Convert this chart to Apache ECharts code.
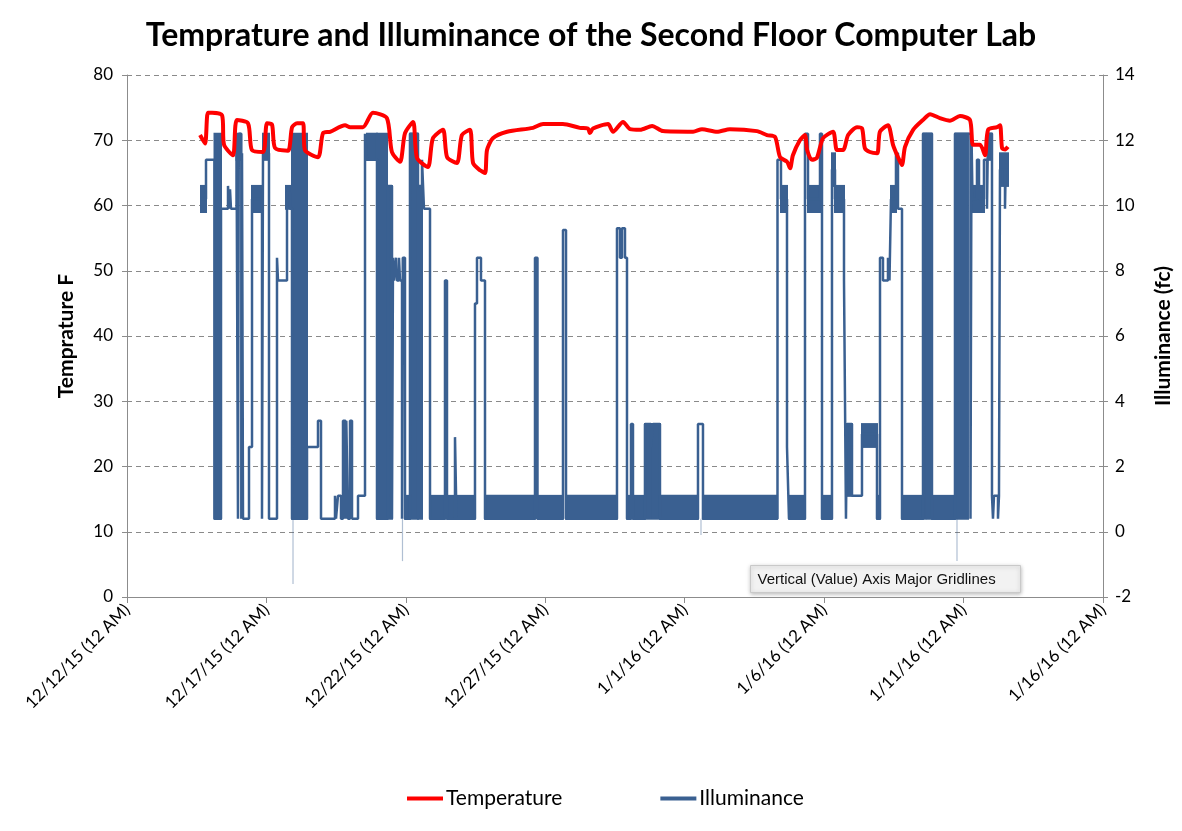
<!DOCTYPE html>
<html>
<head>
<meta charset="utf-8">
<script src="https://cdn.jsdelivr.net/npm/echarts@6/dist/echarts.min.js"></script>
<style>html,body{margin:0;padding:0;background:#fff}#c{width:1182px;height:831px}</style>
</head>
<body>
<div id="c"></div>
<script>
// x values are days after 12/12/15 (12 AM)
const tickLabels = ['12/12/15 (12 AM)','12/17/15 (12 AM)','12/22/15 (12 AM)','12/27/15 (12 AM)','1/1/16 (12 AM)','1/6/16 (12 AM)','1/11/16 (12 AM)','1/16/16 (12 AM)'];

const tempDays = [2.62,2.80,2.90,3.05,3.41,3.48,3.80,3.94,4.34,4.48,4.88,5.02,5.20,5.31,5.77,5.92,6.10,6.31,6.38,6.85,7.03,7.28,7.82,8.00,8.46,8.82,9.32,9.50,9.79,9.97,10.26,10.40,10.79,10.97,11.33,11.48,11.83,12.01,12.30,12.41,12.66,12.84,12.91,13.12,13.63,14.56,14.92,15.63,16.24,16.53,16.60,16.71,17.25,17.43,17.79,18.04,18.40,18.83,19.22,20.30,20.62,21.16,21.62,22.59,22.95,23.24,23.42,23.67,23.78,23.88,24.13,24.31,24.39,24.56,24.74,24.96,25.32,25.46,25.68,25.86,26.18,26.36,26.46,26.64,26.90,27.00,27.29,27.47,27.65,27.79,27.90,28.19,28.54,28.80,29.15,29.51,29.87,30.23,30.34,30.59,30.77,30.88,31.20,31.31,31.38,31.49,31.59];
const tempValues = [70.8,69.5,74.2,74.2,73.8,69.3,67.7,73.1,72.6,68.5,68.2,72.6,72.4,68.8,68.4,72.0,72.6,72.6,68.5,67.4,71.1,71.3,72.3,72.0,72.0,74.2,73.4,68.2,66.7,71.1,72.8,67.3,65.9,70.3,71.6,67.4,66.5,70.8,71.6,66.5,65.4,65.0,68.5,70.3,71.3,71.9,72.5,72.5,71.9,71.8,71.1,71.8,72.5,71.3,72.8,71.7,71.6,72.2,71.4,71.3,71.7,71.3,71.7,71.4,70.8,70.5,67.4,66.7,65.7,67.7,70.0,70.8,68.5,67.0,67.3,70.3,71.3,68.5,68.5,70.8,72.0,71.8,68.8,68.2,68.0,71.3,72.3,69.3,67.4,66.2,69.0,71.6,73.1,74.0,73.4,73.0,73.7,73.1,69.3,69.3,67.7,71.6,72.0,72.3,68.8,68.6,69.0];

// illuminance (fc): level changes, value holds until the next day entry
const illumDays = [2.654,2.833,3.138,3.371,3.622,3.658,3.694,3.729,3.927,3.980,4.009,4.099,4.124,4.160,4.375,4.483,4.841,4.877,5.092,5.379,5.415,5.738,5.845,5.917,6.455,6.849,6.957,7.459,7.495,7.566,7.674,7.746,7.835,7.864,7.925,7.997,8.069,8.284,8.535,8.606,8.965,9.359,9.503,9.539,9.575,9.646,9.682,9.754,9.790,9.862,9.890,9.969,10.148,10.435,10.579,10.650,10.866,11.403,11.475,11.762,11.816,12.479,12.551,12.694,12.838,14.631,14.720,15.635,15.743,17.571,17.679,17.751,17.858,17.930,18.073,18.145,18.575,18.791,18.862,19.113,20.476,20.655,23.327,23.452,23.668,23.739,24.313,24.421,24.851,24.923,25.281,25.389,25.712,25.783,25.819,25.999,26.357,26.895,27.003,27.110,27.289,27.343,27.397,27.576,27.648,27.792,28.545,28.867,29.692,30.248,30.284,30.320,30.481,30.553,30.732,30.840,30.876,31.019,31.055,31.091,31.234,31.270,31.306,31.485,31.510,31.593];
const illumValues = [10.2,11.4,0.4,9.9,10.6,9.9,10.5,9.9,12.2,0.4,12.2,0.4,11.6,0.4,2.6,10.2,0.4,11.6,0.4,8.4,7.7,10.4,9.9,0.4,2.6,3.4,0.4,1.1,0.4,1.1,0.4,3.4,0.4,3.4,0.4,3.4,0.4,1.1,12.2,11.4,0.4,10.6,0.4,8.4,7.7,8.4,7.7,8.4,7.7,0.4,8.4,0.4,12.2,10.6,11.4,9.9,0.4,7.7,0.4,2.9,0.4,7.0,8.4,7.7,0.4,8.4,0.4,9.25,0.4,9.3,8.4,9.3,8.4,0.4,3.3,0.4,3.3,2.6,3.3,0.4,3.3,0.4,11.4,10.2,2.6,0.4,12.2,10.2,12.2,0.4,11.1,10.2,7.7,0.4,3.3,1.1,3.0,0.4,8.4,7.7,8.4,7.7,10.2,11.6,9.9,0.4,12.2,0.4,12.2,0.4,12.2,10.2,11.4,10.2,11.4,9.9,12.2,1.1,0.4,1.1,0.4,1.1,11.1,9.9,11.1,11.1];

// rapidly flickering stretches: [start day, end day, low fc, high fc]
const illumFlicker = [
 [2.654,2.833,9.8,10.6],[3.138,3.371,0.4,12.2],[3.927,4.052,11.4,12.2],[4.483,4.841,9.8,10.6],[4.877,5.092,11.4,12.2],
 [5.702,5.845,9.9,10.6],[5.917,6.455,0.4,12.2],[8.606,8.965,11.4,12.2],[8.965,9.324,0.4,12.2],[9.359,9.503,0.4,10.6],
 [9.969,10.148,0.4,1.1],[10.148,10.435,0.4,12.2],[10.435,10.579,0.4,10.6],[10.866,11.403,0.4,1.1],[11.475,11.762,0.4,1.1],
 [11.816,12.479,0.4,1.1],[12.838,14.631,0.4,1.1],[14.720,15.635,0.4,1.1],[15.743,17.571,0.4,1.1],[17.930,18.073,0.4,1.1],
 [18.145,18.575,0.4,1.1],[18.575,18.791,0.4,3.3],[18.862,19.113,0.4,3.3],[19.113,20.476,0.4,1.1],[20.655,23.309,0.4,1.1],
 [23.452,23.668,9.8,10.6],[23.739,24.313,0.4,1.1],[24.421,24.851,9.8,10.6],[24.923,25.281,0.4,1.1],[25.281,25.389,10.6,11.6],
 [25.389,25.712,9.8,10.6],[25.819,25.999,1.1,3.3],[26.357,26.895,2.6,3.3],[26.895,27.003,0.4,1.1],[27.397,27.576,9.8,10.6],
 [27.792,28.545,0.4,1.1],[28.545,28.627,0.4,12.2],[28.688,28.867,0.4,12.2],[28.867,29.692,0.4,1.1],[29.692,30.158,0.4,12.2],
 [30.320,30.481,9.8,10.6],[30.553,30.732,9.8,10.6],[30.876,31.019,11.4,12.2],[31.306,31.593,10.6,11.6]
];
// brief negative readings: [day, lowest fc]
const illumDips = [[5.953,-1.6],[9.879,-0.9],[20.584,-0.1],[29.764,-0.9]];

const BLUE = '#3A6091';
const RED = '#FF0000';
const AXIS = '#8c8c8c';

const tempData = tempDays.map((d,i)=>[d,tempValues[i]]);
const illumData = illumDays.map((d,i)=>[d,illumValues[i]]);

const chart = echarts.init(document.getElementById('c'));
chart.setOption({
  animation:false,
  title:{text:'Temprature and Illuminance of the Second Floor Computer Lab',left:'center',top:15,
    textStyle:{fontFamily:'Lato',fontWeight:'bold',fontSize:32,color:'#000'}},
  grid:{left:127,right:79,top:75,bottom:234},
  legend:{top:783,left:402,itemGap:98,itemWidth:36,itemHeight:4,
    textStyle:{fontFamily:'Lato',fontSize:21,color:'#000',padding:[0,0,0,-2]},
    data:[{name:'Temperature',icon:'rect',itemStyle:{color:RED}},{name:'Illuminance',icon:'rect',itemStyle:{color:BLUE}}]},
  xAxis:{type:'value',min:0,max:35,interval:5,
    axisLine:{show:true,onZero:false,lineStyle:{color:AXIS,width:1}},
    axisTick:{show:true,length:6,lineStyle:{color:AXIS}},
    splitLine:{show:false},
    axisLabel:{rotate:45,margin:10,fontFamily:'Lato',fontSize:17,color:'#000',
      formatter:v=>tickLabels[Math.round(v/5)]}},
  yAxis:[
    {type:'value',min:0,max:80,interval:10,name:'Temprature F',nameLocation:'middle',nameGap:50,nameRotate:90,
     nameTextStyle:{fontFamily:'Lato',fontWeight:'bold',fontSize:21,color:'#000'},
     axisLine:{show:true,lineStyle:{color:AXIS}},axisTick:{show:true,length:5,lineStyle:{color:AXIS}},
     splitLine:{show:true,lineStyle:{color:'#8a8a8a',type:[5,4],width:1}},
     axisLabel:{fontFamily:'Lato',fontSize:17,color:'#000',margin:14}},
    {type:'value',min:-2,max:14,interval:2,position:'right',name:'Illuminance (fc)',nameLocation:'middle',nameGap:50,nameRotate:90,
     nameTextStyle:{fontFamily:'Lato',fontWeight:'bold',fontSize:21,color:'#000'},
     axisLine:{show:true,lineStyle:{color:AXIS}},axisTick:{show:true,length:5,lineStyle:{color:AXIS}},
     splitLine:{show:false},
     axisLabel:{fontFamily:'Lato',fontSize:17,color:'#000',margin:12}}
  ],
  series:[
    {name:'Illuminance',type:'line',yAxisIndex:1,step:'end',data:illumData,showSymbol:false,
     lineStyle:{color:BLUE,width:2.5},itemStyle:{color:BLUE},z:2},
    {name:'Illuminance',type:'custom',yAxisIndex:1,data:illumFlicker,encode:{x:[0,1],y:[2,3]},z:2,
     itemStyle:{color:BLUE},
     renderItem:(params,api)=>{
       const p0=api.coord([api.value(0),api.value(3)]);
       const p1=api.coord([api.value(1),api.value(2)]);
       return {type:'rect',shape:{x:p0[0]-1,y:p0[1]-1,width:Math.max(p1[0]-p0[0],1)+2,height:p1[1]-p0[1]+2},style:{fill:BLUE}};
     }},
    {name:'Illuminance',type:'custom',yAxisIndex:1,data:illumDips,encode:{x:0,y:1},z:2,
     itemStyle:{color:BLUE},
     renderItem:(params,api)=>{
       const a=api.coord([api.value(0),0.4]);
       const b=api.coord([api.value(0),api.value(1)]);
       return {type:'line',shape:{x1:a[0],y1:a[1],x2:b[0],y2:b[1]},style:{stroke:BLUE,lineWidth:1.2,opacity:0.4}};
     }},
    {name:'Temperature',type:'line',yAxisIndex:0,data:tempData,showSymbol:false,smooth:0.25,
     lineStyle:{color:RED,width:4},itemStyle:{color:RED},z:5}
  ],
  graphic:[{type:'group',left:750,top:565,children:[
    {type:'rect',shape:{x:0,y:0,width:270,height:27},
     style:{fill:'#f2f2f2',stroke:'#c9c9c9',lineWidth:1,shadowBlur:4,shadowColor:'rgba(0,0,0,0.25)',shadowOffsetY:1}},
    {type:'text',x:7,y:14,style:{text:'Vertical (Value) Axis Major Gridlines',fontFamily:'Liberation Sans',fontSize:15,fill:'#111',verticalAlign:'middle'}}
  ]}]
});
</script>
</body>
</html>
